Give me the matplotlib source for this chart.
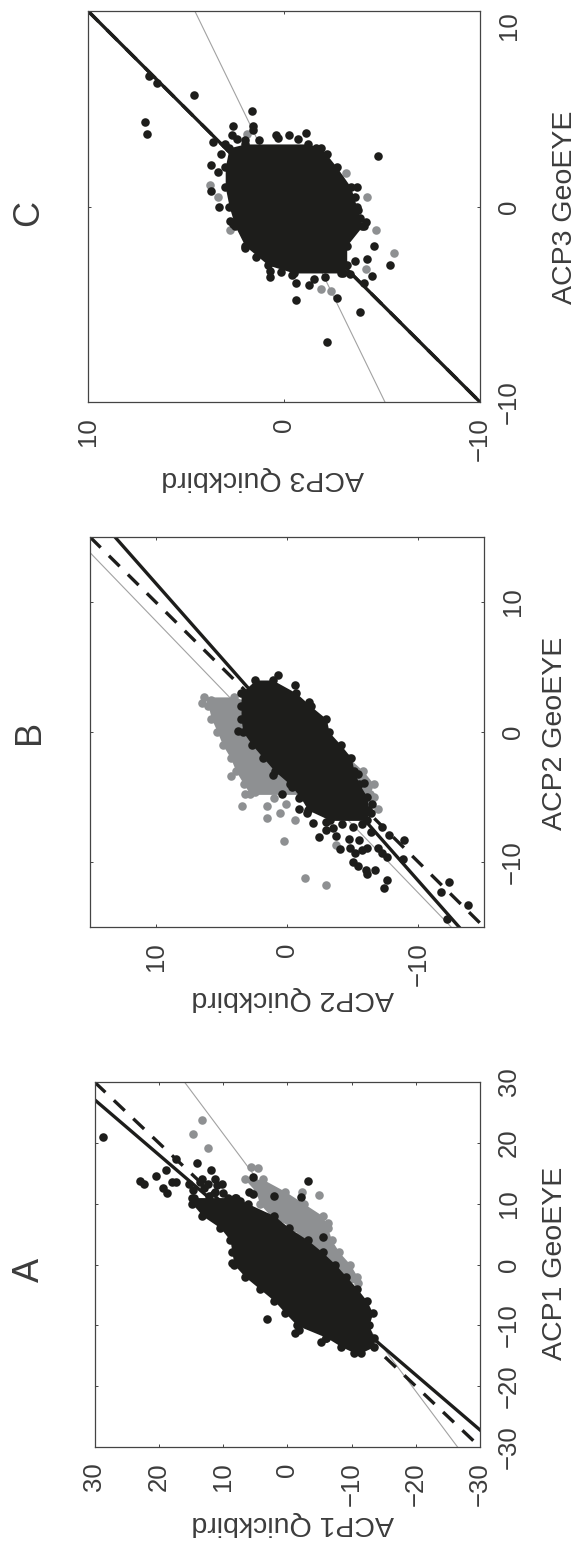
from matplotlib import pyplot as plt

plt.rcParams['font.family'] = ['Liberation Sans', 'DejaVu Sans']

W, H = 578, 1546
INK = '#1d1d1b'
GREY = '#8e9092'
TEXT = '#3c3c3c'
DOT = 38

# --- panel A ---
a_geo_black = [11, 10, 8, 6, 4, 2, 0, -2, -4, -6, -8, -10, -12, -13.5, -14.5]
a_qb_black_hi = [14.5, 14.8, 13.2, 10.4, 8.9, 8.6, 8.3, 6.6, 4.3, 2.0, 0.3, -1.5, -6.1, -8.4, -10.4]
a_qb_black_lo = [8.0, 6.1, 2.0, -0.3, -3.2, -5.5, -7.5, -9.2, -10.9, -12.4, -13.3, -12.7, -13.5, -13.5, -11.5]
a_geo_grey = [14, 12, 10, 8, 6, 4, 2, 0, -2, -3]
a_qb_grey_hi = [6.6, 4.9, 4.3, 2.6, -0.9, -2.6, -4.9, -6.6, -7.8, -8.5]
a_qb_grey_lo = [3.8, 0.3, -2.6, -5.5, -6.3, -6.9, -8.1, -9.8, -10.9, -11.0]
a_out_qb = [28.6, 22.9, 22.3, 20.5, 18.9, 17.3, 14.1, 11.8, 10.2, 19.3, 18.7, 17.9, 17.3, 5.4, -3.2, 2.1,
            -2.1, -5.5, 3.1, -1.2, -1.9, -5.2, -6.1, 8.6, 15.3, 13.6, 12.4, 11.0, 14.7, 14.9, 13.3, 13.0,
            11.2, 10.0, 9.2, 8.2, 7.4, 6.0, 5.4, 12.2, 11.2]
a_out_geo = [20.9, 13.7, 13.3, 14.5, 15.5, 17.3, 16.7, 15.5, 13.2, 12.6, 11.8, 13.6, 13.6, 14.4, 13.8, 11.3,
             11.1, 4.5, -9.0, -11.3, -10.8, -12.7, -12.1, 0.2, 13.3, 13.6, 13.3, 13.0, 12.2, 10.9, 14.0, 12.6,
             12.0, 11.8, 11.0, 10.9, 10.5, 12.0, 11.6, 11.2, 14.1]
a_gout_qb = [13.3, 14.7, 12.4, 5.6, 4.5, -5.0, -2.3, -6.4]
a_gout_geo = [23.7, 21.5, 19.1, 16.1, 15.8, 11.5, 11.9, 6.9]
a_solid_qb, a_solid_geo = [30, -30], [27.1, -27.2]
a_dash_qb, a_dash_geo = [30, -30], [30, -30]
a_thin_qb, a_thin_geo = [16, -26.5], [30, -30]
a_ticks = [-30, -20, -10, 0, 10, 20, 30]

# --- panel B ---
b_geo_black = [4, 3, 2, 1, 0, -1, -2, -3, -4, -5, -6, -6.8]
b_qb_black_hi = [2.4, 3.5, 3.5, 3.5, 3.35, 2.65, 1.8, 0.95, -0.2, -1.0, -1.6, -3.3]
b_qb_black_lo = [1.1, -0.7, -1.8, -3.0, -3.2, -4.1, -4.9, -5.1, -5.5, -6.1, -6.2, -6.1]
b_geo_grey = [2.7, 2, 1, 0, -1, -2, -3, -4, -4.8]
b_qb_grey_hi = [6.3, 6.0, 5.75, 5.3, 4.9, 4.3, 3.9, 3.3, 2.8]
b_qb_grey_lo = [4.0, 2.0, 0, -1.0, -3.0, -4.7, -5.8, -6.6, -6.3]
b_out_qb = [0.7, -0.6, -1.7, 3.7, 1.1, 0.4, -0.4, -0.9, -0.9, -1.5, -2.0, -2.4, -3.0, -3.7, -4.0, -4.8, -5.2,
            -5.7, -6.1, -4.7, -5.5, -6.4, -7.2, -7.6, -7.8, -8.9, -5.0, -5.4, -6.0, -6.1, -6.7, -7.6, -7.4,
            -12.3, -11.7, -13.8, -12.2, -7.2, -6.9, -8.8, -3.0, -3.5, -4.2, -5.0, -5.7, -6.4, -6.5, -5.9, -5.4]
b_out_geo = [4.4, 3.6, 2.3, 0.1, -3.3, -4.8, -4.2, -5.1, -5.9, -6.2, -7.0, -8.1, -7.5, -8.0, -9.0, -8.9, -9.3,
             -9.1, -8.9, -8.2, -8.3, -7.7, -9.3, -9.6, -7.9, -8.3, -10.0, -10.3, -10.6, -10.9, -10.6, -11.4, -12.0,
             -11.5, -12.3, -13.3, -14.4, -7.3, -8.9, -9.8, -6.9, -7.4, -7.1, -7.3, -7.1, -6.2, -5.5, -3.9, -3.2]
b_gout_qb = [3.4, 1.5, 0.5, -0.6, 0.2, -1.4, -3.0, -3.7, -6.9, 4.3, 6.5, 5.8, 3.2, 2.4, 1.5, 1.0, 0.1, -6.6, -6.2]
b_gout_geo = [-5.7, -6.6, -6.2, -6.8, -8.4, -11.2, -11.8, -8.7, -5.9, -3.4, 2.2, 2.5, -4.8, -4.6, -5.7, -5.1, -5.5,
              -5.0, -5.4]
b_solid_qb, b_solid_geo = [13.1, -13.1], [15, -15]
b_dash_qb, b_dash_geo = [15, -15], [15, -15]
b_thin_qb, b_thin_geo = [15, -12.5], [13.8, -15]
b_ticks = [-10, 0, 10]

# --- panel C ---
c_geo_black = [3.2, 3, 2, 1, 0, -1, -2, -3, -3.4]
c_qb_black_hi = [2.0, 2.8, 3.0, 3.0, 2.8, 2.5, 2.0, 0.8, -0.5]
c_qb_black_lo = [-1.2, -1.9, -2.7, -3.4, -3.7, -4.0, -3.2, -3.2, -3.0]
c_out_qb = [1.65, 2.6, 1.6, 1.6, 2.65, 7.1, 7.0, 4.6, 6.9, 6.5, 3.7, 3.2, 3.6, 3.35, 3.7, 3.3, 2.75, -2.2, -1.65,
            -1.1, 0.4, -0.25, -4.8, -3.7, -3.6, -3.8, -4.2, -4.6, -4.25, -3.6, -5.4, -4.5, -4.1, -0.6, -1.3,
            -0.6, -2.7, -3.9, -2.2, 0.7, 1.45, 2.0, 2.6, 3.0, 2.4, 2.0, 1.3, 0.7, 0.15, -0.4, -1.55, -2.1, -2.9,
            -3.35, 0.3, -0.7, -4.1, -3.9]
c_out_geo = [4.9, 4.1, 4.1, 3.9, 3.65, 4.3, 3.7, 5.7, 6.7, 6.3, 2.1, 2.7, 3.3, 1.75, 0.8, -0.05, -0.75, 2.7, 3.0,
             3.75, 3.65, 3.65, 2.6, 1.0, 0.5, -0.2, -0.8, -2.0, -2.7, -2.8, -3.0, -3.55, -3.9, -3.9, -4.0,
             -4.8, -4.7, -5.4, -6.95, -3.6, -2.6, -2.1, -0.9, 3.2, 3.45, 3.4, 3.4, -3.3, -3.35, -3.5, -3.7, -3.6,
             -3.4, -3.45, 3.5, 3.45, -1.0, -0.6]
c_gout_qb = [3.8, 3.35, 2.75, 1.9, -3.15, -4.25, -4.7, -5.6, -1.9, -2.4, -4.2]
c_gout_geo = [1.1, 0.5, -1.2, 3.7, 1.7, 0.5, -1.2, -2.4, -4.2, -4.3, -3.2]
c_solid_qb, c_solid_geo = [10, -10], [10, -10]
c_dash_qb, c_dash_geo = [10, -10], [10, -10]
c_thin_qb, c_thin_geo = [4.55, -5.15], [10, -10]
c_ticks = [-10, 0, 10]


def px_text(fig, x, y, s, size, rotation):
    fig.text(x / W, 1 - y / H, s, fontsize=size, rotation=rotation, color=TEXT,
             ha='center', va='center', rotation_mode='anchor')


def blob(ax, geo, hi, lo, color, z):
    ax.fill_betweenx(geo, lo, hi, color=color, lw=0, zorder=z)
    ax.scatter(hi + lo, geo + geo, s=DOT, color=color, lw=0, zorder=z)


def panel(box, lim, ticks, solid, dash, thin):
    left, right, top, bottom = box
    ax = fig.add_axes([left / W, 1 - bottom / H, (right - left) / W, (bottom - top) / H])
    ax.set_xlim(lim, -lim)
    ax.set_ylim(-lim, lim)
    ax.plot(thin[0], thin[1], color='#a2a2a2', lw=0.8, zorder=1)
    ax.plot(dash[0], dash[1], color=INK, lw=2.4, linestyle=(0, (4.5, 3.5)), zorder=2)
    ax.plot(solid[0], solid[1], color=INK, lw=2.4, zorder=2)
    ax.set_xticks(ticks)
    ax.set_yticks(ticks)
    ax.tick_params(direction='in', length=2.5, width=0.7, color='#444444', top=True, right=True,
                   left=True, bottom=True, labelleft=False, labelright=True, labelsize=18.5,
                   labelcolor=TEXT)
    ax.tick_params(axis='x', pad=11, labelrotation=90)
    ax.tick_params(axis='y', pad=12, labelrotation=90)
    for t in ax.get_yticklabels():
        t.set_verticalalignment('center')
    for s in ax.spines.values():
        s.set_color('#444444')
        s.set_linewidth(0.9)
    return ax


fig = plt.figure(figsize=(W / 100, H / 100), dpi=100)

# A
ax = panel((94.5, 480, 1082, 1447), 30, a_ticks, (a_solid_qb, a_solid_geo), (a_dash_qb, a_dash_geo),
           (a_thin_qb, a_thin_geo))
blob(ax, a_geo_grey, a_qb_grey_hi, a_qb_grey_lo, GREY, 3)
ax.scatter(a_gout_qb, a_gout_geo, s=DOT, color=GREY, lw=0, zorder=3)
blob(ax, a_geo_black, a_qb_black_hi, a_qb_black_lo, INK, 4)
ax.scatter(a_out_qb, a_out_geo, s=DOT, color=INK, lw=0, zorder=4)

# B
ax = panel((90, 484, 537, 927), 15, b_ticks, (b_solid_qb, b_solid_geo), (b_dash_qb, b_dash_geo),
           (b_thin_qb, b_thin_geo))
blob(ax, b_geo_grey, b_qb_grey_hi, b_qb_grey_lo, GREY, 3)
ax.scatter(b_gout_qb, b_gout_geo, s=DOT, color=GREY, lw=0, zorder=3)
blob(ax, b_geo_black, b_qb_black_hi, b_qb_black_lo, INK, 4)
ax.scatter(b_out_qb, b_out_geo, s=DOT, color=INK, lw=0, zorder=4)

# C
ax = panel((88, 480, 11, 402), 10, c_ticks, (c_solid_qb, c_solid_geo), (c_dash_qb, c_dash_geo),
           (c_thin_qb, c_thin_geo))
ax.scatter(c_gout_qb, c_gout_geo, s=DOT, color=GREY, lw=0, zorder=3)
blob(ax, c_geo_black, c_qb_black_hi, c_qb_black_lo, INK, 4)
ax.scatter(c_out_qb, c_out_geo, s=DOT, color=INK, lw=0, zorder=4)
# top label would run off the page, the original hangs it below the tick
ax.get_yticklabels()[-1].set_verticalalignment('top')

px_text(fig, 29, 1270, 'A', 26, 90)
px_text(fig, 29, 732, 'B', 26, 90)
px_text(fig, 29, 213, 'C', 26, 90)
px_text(fig, 555, 1263, 'ACP1 GeoEYE', 20.5, 90)
px_text(fig, 555, 733, 'ACP2 GeoEYE', 20.5, 90)
px_text(fig, 565, 207, 'ACP3 GeoEYE', 20.5, 90)
px_text(fig, 293, 1523, 'ACP1 Quickbird', 20.5, 180)
px_text(fig, 293, 998, 'ACP2 Quickbird', 20.5, 180)
px_text(fig, 263, 478, 'ACP3 Quickbird', 20.5, 180)

plt.savefig('out.png', dpi=100)
